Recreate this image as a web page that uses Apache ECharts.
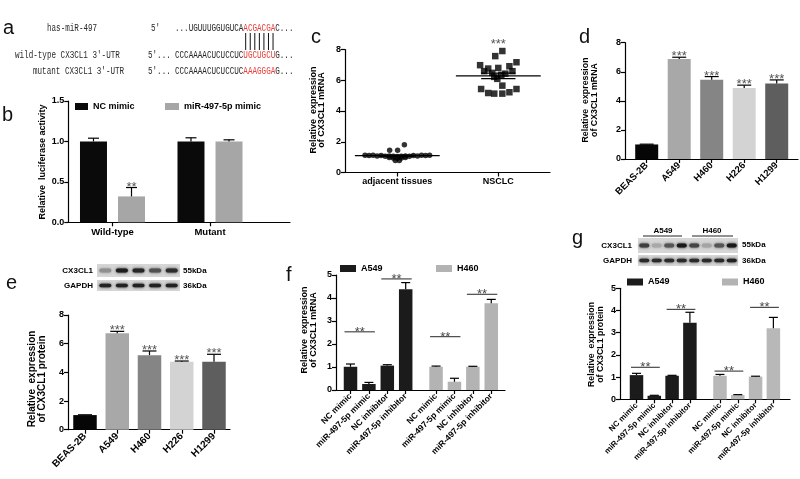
<!DOCTYPE html>
<html><head><meta charset="utf-8">
<script src="https://cdn.jsdelivr.net/npm/echarts@6.0.0/dist/echarts.min.js"></script>
<style>html,body{margin:0;padding:0;background:#fff}#chart{width:800px;height:479px}</style>
</head><body><div id="chart"></div>
<script>
// ================= DATA =================
// b: luciferase
const bCategories = ['Wild-type', 'Mutant'];
const bSeriesNames = ['NC mimic', 'miR-497-5p mimic'];
const bNC = [1.00, 1.00];
const bNCErr = [0.04, 0.045];
const bMiR = [0.32, 1.00];
const bMiRErr = [0.11, 0.02];
const bMiRSig = ['**', ''];

// c: tissues scatter (value, horizontal spread within column)
const cCategories = ['adjacent tissues', 'NSCLC'];
const cAdjacent = [1.13,1.10,1.12,1.08,1.10,1.06,1.08,1.05,1.04,1.05,1.08,1.06,1.10,1.08,1.12,1.10,1.13,
                   0.98,0.95,0.92,0.95,0.98,0.78,0.78,1.45,1.45,1.80];
const cAdjacentSpread = [-0.32,-0.28,-0.24,-0.20,-0.16,-0.12,-0.08,-0.04,0.00,0.04,0.08,0.12,0.16,0.20,0.24,0.28,0.32,
                   -0.08,-0.04,0.00,0.04,0.08,-0.02,0.02,-0.076,0.003,0.07];
const cNSCLC = [7.90,7.57,7.17,6.98,6.91,6.76,6.80,6.59,6.59,6.48,6.43,6.35,6.22,6.09,5.65,5.43,5.43,5.17,5.13,5.13,5.22];
const cNSCLCSpread = [0.04,-0.03,0.18,-0.18,0.11,-0.10,0.00,-0.14,0.14,-0.06,0.07,0.03,-0.04,-0.01,0.04,-0.17,0.18,-0.10,-0.04,0.04,0.11];
const cSig = ['', '***'];

// d: cell lines mRNA
const dCategories = ['BEAS-2B', 'A549', 'H460', 'H226', 'H1299'];
const dValues = [1.00, 6.88, 5.45, 4.88, 5.20];
const dErrors = [0.02, 0.12, 0.22, 0.20, 0.24];
const dSig = ['', '***', '***', '***', '***'];

// e: cell lines protein
const eCategories = ['BEAS-2B', 'A549', 'H460', 'H226', 'H1299'];
const eValues = [1.02, 6.72, 5.20, 4.74, 4.74];
const eErrors = [0.02, 0.14, 0.29, 0.05, 0.52];
const eSig = ['', '***', '***', '***', '***'];

// f / g: transfection groups
const fgCategories = ['NC mimic', 'miR-497-5p mimic', 'NC inhibitor', 'miR-497-5p inhibitor'];
const fgGroups = ['A549', 'H460'];
const fA549 = [1.01, 0.26, 1.06, 4.38];
const fA549Err = [0.12, 0.07, 0.04, 0.29];
const fH460 = [1.01, 0.36, 1.01, 3.77];
const fH460Err = [0.03, 0.15, 0.02, 0.17];
const fSigA549 = [[0, 1, 2.53], [2, 3, 4.83]];
const fSigH460 = [[0, 1, 2.32], [2, 3, 4.16]];

const gA549 = [1.09, 0.16, 1.06, 3.45];
const gA549Err = [0.08, 0.02, 0.02, 0.47];
const gH460 = [1.06, 0.19, 1.02, 3.20];
const gH460Err = [0.06, 0.02, 0.02, 0.49];
const gSigA549 = [[0, 1, 1.44], [2, 3, 4.05]];
const gSigH460 = [[0, 1, 1.27], [2, 3, 4.14]];

// ================= LAYOUT / STYLE =================
const FONT = '"Liberation Sans", Arial, sans-serif';
const AX = { color: '#000', width: 1.2 };
const cellColors = ['#060606', '#a8a8a8', '#858585', '#d3d3d3', '#5e5e5e'];
const bPairShift = 0.195;
const fShift = 4.65, gShift = 4.69;

const fPosA = fgCategories.map((c, i) => i);
const fPosH = fgCategories.map((c, i) => i + fShift);
const gPosA = fgCategories.map((c, i) => i);
const gPosH = fgCategories.map((c, i) => i + gShift);

function grid(left, top, width, height) {
  return { left, top, width, height, containLabel: false, outerBoundsMode: 'none' };
}
function xCat(gridIndex, min, max, pos, labels, fontSize, rotate) {
  return {
    type: 'value', gridIndex, min, max, splitLine: { show: false },
    axisLine: { show: true, onZero: false, lineStyle: AX },
    axisTick: { show: true, customValues: pos, length: 4, lineStyle: AX },
    axisLabel: {
      customValues: pos, rotate: rotate || 0, margin: 5, color: '#000', fontWeight: 'bold',
      fontSize, fontFamily: FONT,
      formatter: v => { const k = pos.findIndex(p => Math.abs(p - v) < 1e-6); return k < 0 ? '' : labels[k]; }
    }
  };
}
function yVal(gridIndex, max, interval, offset, fmt) {
  return {
    type: 'value', gridIndex, min: 0, max, interval, offset: offset || 0, splitLine: { show: false },
    axisLine: { show: true, onZero: false, lineStyle: AX },
    axisTick: { show: true, length: 4, lineStyle: AX },
    axisLabel: { color: '#000', fontWeight: 'bold', fontSize: 9, fontFamily: FONT, margin: 4, formatter: fmt }
  };
}
function errSeries(xi, yi, rows, cap, sigs) {
  return {
    type: 'custom', xAxisIndex: xi, yAxisIndex: yi, z: 5, silent: true, data: rows,
    encode: { x: 0, y: 1 },
    renderItem: (params, api) => {
      const x0 = api.value(0), v = api.value(1), e = api.value(2);
      const b = api.coord([x0, v]), t = api.coord([x0, v + e]);
      const kids = [
        { type: 'line', shape: { x1: b[0], y1: b[1], x2: b[0], y2: t[1] }, style: { stroke: '#000', lineWidth: 1.2 } },
        { type: 'line', shape: { x1: b[0] - cap, y1: t[1], x2: b[0] + cap, y2: t[1] }, style: { stroke: '#000', lineWidth: 1.2 } }
      ];
      const s = sigs ? sigs[params.dataIndex] : '';
      if (s) kids.push({ type: 'text', style: { text: s, x: b[0], y: t[1] + 6, align: 'center', verticalAlign: 'bottom',
        font: '13px ' + FONT, fill: '#555' } });
      return { type: 'group', children: kids };
    }
  };
}
function sigSeries(xi, yi, rows, half) {
  return {
    type: 'custom', xAxisIndex: xi, yAxisIndex: yi, z: 6, silent: true, data: rows,
    encode: { x: [0, 1], y: 2 },
    renderItem: (params, api) => {
      const a = api.coord([api.value(0), api.value(2)]), b = api.coord([api.value(1), api.value(2)]);
      const x1 = a[0] - half, x2 = b[0] + half, y = a[1];
      return { type: 'group', children: [
        { type: 'line', shape: { x1, y1: y, x2, y2: y }, style: { stroke: '#4a4a4a', lineWidth: 1.2 } },
        { type: 'text', style: { text: '**', x: (x1 + x2) / 2, y: y + 7, align: 'center', verticalAlign: 'bottom',
          font: '13px ' + FONT, fill: '#4a4a4a' } }
      ] };
    }
  };
}
const mean = a => a.reduce((s, v) => s + v, 0) / a.length;
const sem = a => { const m = mean(a); return Math.sqrt(a.reduce((s, v) => s + (v - m) * (v - m), 0) / (a.length - 1)) / Math.sqrt(a.length); };
const cGroups = [cAdjacent, cNSCLC];

// ================= GRAPHIC (labels, sequences, blots) =================
const graphic = [];
function T(x, y, text, font, extra) {
  const ex = extra || {};
  const el = { type: 'text', x, y, silent: true,
    style: Object.assign({ text, font, fill: '#000', align: 'left', verticalAlign: 'middle' }, ex.style || {}) };
  if (ex.scaleY) el.scaleY = ex.scaleY;
  graphic.push(el);
}
// panel letters
[['a', 3, 18], ['b', 2, 105], ['c', 311, 27], ['d', 579, 27], ['e', 6, 273], ['f', 286, 265], ['g', 572, 228]]
  .forEach(([t, x, y]) => T(x, y, t, '20px ' + FONT, { style: { verticalAlign: 'alphabetic', fill: '#111' } }));

// panel a : sequences
const SEQF = '7.6px "Liberation Mono", monospace';
const seqStyle = { fill: '#2a2a2a', rich: { r: { fill: '#e8413c', font: SEQF } } };
const seqLines = [
  { y: 28, name: 'has-miR-497', nx: 47, p: "5'", px: 151, seq: '...UGUUUGGUGUCA{r|ACGACGA}C...' },
  { y: 55, name: "wild-type CX3CL1 3'-UTR", nx: 15, p: "5'...", px: 148, seq: 'CCCAAAACUCUCCUC{r|UGCUGCU}G...' },
  { y: 71, name: "mutant CX3CL1 3'-UTR", nx: 33, p: "5'...", px: 148, seq: 'CCCAAAACUCUCCUC{r|AAAGGGA}G...' }
];
seqLines.forEach(L => {
  T(L.nx, L.y, L.name, SEQF, { scaleY: 1.35, style: { fill: '#2a2a2a' } });
  T(L.px, L.y, L.p, SEQF, { scaleY: 1.35, style: { fill: '#2a2a2a' } });
  T(175, L.y, L.seq, SEQF, { scaleY: 1.35, style: seqStyle });
});
for (let i = 0; i < 7; i++) {
  const x = 175 + 15 * 4.56 + 2.28 + i * 4.56;
  graphic.push({ type: 'line', silent: true, shape: { x1: x, y1: 33, x2: x, y2: 50 }, style: { stroke: '#111', lineWidth: 1 } });
}

// axis titles (rotated)
function vTitle(x, y, text, size, lh) {
  graphic.push({ type: 'text', x, y, rotation: Math.PI / 2, silent: true,
    style: { text, font: 'bold ' + size + 'px ' + FONT, fill: '#000', align: 'center', verticalAlign: 'middle', lineHeight: lh } });
}
vTitle(43, 162, 'Relative  luciferase activity', 9, 10);
vTitle(317.5, 110, 'Relative  expression\nof CX3CL1 mRNA', 9, 8.5);
vTitle(590, 100, 'Relative  expression\nof CX3CL1 mRNA', 8.8, 8.5);
vTitle(37, 379, 'Relative  expression\nof CX3CL1 protein', 10, 10);
vTitle(309, 330, 'Relative  expression\nof CX3CL1 mRNA', 9, 8.5);
vTitle(596, 344.5, 'Relative  expression\nof CX3CL1 protein', 8.8, 8.5);

// western blots
function blot(x0, w, yTop, h1, yBot, h2, tones1, tones2, bandW) {
  const n = tones1.length, step = w / n;
  graphic.push({ type: 'rect', silent: true, shape: { x: x0, y: yTop, width: w, height: h1 }, style: { fill: '#d6d6d6' } });
  graphic.push({ type: 'rect', silent: true, shape: { x: x0, y: yBot, width: w, height: h2 }, style: { fill: '#d6d6d6' } });
  tones1.forEach((c, i) => graphic.push({ type: 'rect', silent: true,
    shape: { x: x0 + step * (i + 0.5) - bandW / 2, y: yTop + h1 / 2 - 2, width: bandW, height: 4, r: 2 },
    style: { fill: c, shadowBlur: 3, shadowColor: c } }));
  tones2.forEach((c, i) => graphic.push({ type: 'rect', silent: true,
    shape: { x: x0 + step * (i + 0.5) - bandW / 2, y: yBot + h2 / 2 - 1.8, width: bandW, height: 3.6, r: 2 },
    style: { fill: c, shadowBlur: 3, shadowColor: c } }));
}
blot(97, 83, 264, 13, 280, 11, ['#8f8f8f', '#1c1c1c', '#262626', '#505050', '#2e2e2e'], ['#222', '#222', '#222', '#222', '#222'], 12);
T(93, 270.5, 'CX3CL1', 'bold 8px ' + FONT, { style: { align: 'right' } });
T(93, 285.5, 'GAPDH', 'bold 8px ' + FONT, { style: { align: 'right' } });
T(183, 270.5, '55kDa', 'bold 8px ' + FONT);
T(183, 285.5, '36kDa', 'bold 8px ' + FONT);

blot(638, 100, 238, 15, 255, 11,
  ['#3e3e3e', '#a8a8a8', '#555', '#1a1a1a', '#444', '#a4a4a4', '#555', '#1a1a1a'],
  ['#2a2a2a', '#2a2a2a', '#2a2a2a', '#2a2a2a', '#2a2a2a', '#2a2a2a', '#2a2a2a', '#222'], 10);
T(632, 246, 'CX3CL1', 'bold 8px ' + FONT, { style: { align: 'right' } });
T(632, 260.5, 'GAPDH', 'bold 8px ' + FONT, { style: { align: 'right' } });
T(742, 245, '55kDa', 'bold 8px ' + FONT);
T(742, 260.5, '36kDa', 'bold 8px ' + FONT);
T(663, 231, fgGroups[0], 'bold 8px ' + FONT, { style: { align: 'center' } });
T(712, 231, fgGroups[1], 'bold 8px ' + FONT, { style: { align: 'center' } });
graphic.push({ type: 'line', silent: true, shape: { x1: 643, y1: 236, x2: 682, y2: 236 }, style: { stroke: '#222', lineWidth: 1 } });
graphic.push({ type: 'line', silent: true, shape: { x1: 692, y1: 236, x2: 733, y2: 236 }, style: { stroke: '#222', lineWidth: 1 } });

// ================= LEGENDS =================
function leg(name, left, top, w) {
  return { data: [name], left, top, padding: 0, icon: 'rect', itemWidth: w, itemHeight: 7, selectedMode: false,
    textStyle: { color: '#000', fontWeight: 'bold', fontSize: 9, fontFamily: FONT } };
}

// ================= OPTION =================
const option = {
  animation: false,
  backgroundColor: '#fff',
  grid: [
    grid(68.25, 101, 221.75, 121.3),   // b
    grid(345, 49.5, 205, 123),         // c
    grid(625, 42.7, 173, 116.3),       // d
    grid(68, 315, 162, 114.7),         // e
    grid(336, 275, 169, 115),          // f
    grid(620, 288.3, 170, 111)         // g
  ],
  xAxis: [
    xCat(0, -0.4538, 1.8205, [0, 1], bCategories, 9.5, 0),
    xCat(1, -0.518, 1.512, [0, 1], cCategories, 9, 0),
    xCat(2, -0.668, 4.655, dCategories.map((c, i) => i), dCategories, 9.5, 45),
    xCat(3, -0.527, 4.496, eCategories.map((c, i) => i), eCategories, 10, 45),
    xCat(4, -0.788, 8.397, fPosA.concat(fPosH), fgCategories.concat(fgCategories), 8.5, 45),
    xCat(5, -0.927, 8.624, gPosA.concat(gPosH), fgCategories.concat(fgCategories), 8, 45)
  ],
  yAxis: [
    yVal(0, 1.5, 0.5, 0, v => v.toFixed(1)),
    yVal(1, 8, 2, 0),
    yVal(2, 8, 2, 0),
    yVal(3, 8, 2, 0),
    yVal(4, 5, 1, 0),
    yVal(5, 5, 1, 0)
  ],
  legend: [
    leg(bSeriesNames[0], 75, 102, 13),
    leg(bSeriesNames[1], 165, 102, 14),
    leg(fgGroups[0], 340, 264, 16),
    leg(fgGroups[1], 436, 264, 16),
    leg(fgGroups[0], 627, 277.5, 16),
    leg(fgGroups[1], 722, 277.5, 16)
  ],
  graphic: graphic,
  series: [
    // b
    { type: 'bar', name: bSeriesNames[0], xAxisIndex: 0, yAxisIndex: 0, barWidth: 27, barGap: '-100%',
      itemStyle: { color: '#0a0a0a' }, data: bNC.map((v, i) => [i - bPairShift, v]) },
    { type: 'bar', name: bSeriesNames[1], xAxisIndex: 0, yAxisIndex: 0, barWidth: 27, barGap: '-100%',
      itemStyle: { color: '#a6a6a6' }, data: bMiR.map((v, i) => [i + bPairShift, v]) },
    errSeries(0, 0, bNC.map((v, i) => [i - bPairShift, v, bNCErr[i]]), 5.5, null),
    errSeries(0, 0, bMiR.map((v, i) => [i + bPairShift, v, bMiRErr[i]]), 5.5, bMiRSig),
    // c
    { type: 'scatter', name: cCategories[0], xAxisIndex: 1, yAxisIndex: 1, symbol: 'circle', symbolSize: 5.5,
      itemStyle: { color: '#000' }, data: cAdjacent.map((v, i) => [0 + cAdjacentSpread[i], v]) },
    { type: 'scatter', name: cCategories[1], xAxisIndex: 1, yAxisIndex: 1, symbol: 'rect', symbolSize: 6.5,
      itemStyle: { color: '#000' }, data: cNSCLC.map((v, i) => [1 + cNSCLCSpread[i], v]) },
    { type: 'custom', xAxisIndex: 1, yAxisIndex: 1, z: 6, silent: true, encode: { x: 0, y: 1 },
      data: cGroups.map((g, i) => [i, mean(g), sem(g)]),
      renderItem: (params, api) => {
        const i = api.value(0), m = api.value(1), s = api.value(2);
        const L = api.coord([i - 0.42, m]), R = api.coord([i + 0.42, m]);
        const lo = api.coord([i, m - s]), hi = api.coord([i, m + s]);
        const cl = api.coord([i - 0.17, m])[0], cr = api.coord([i + 0.17, m])[0];
        const kids = [
          { type: 'line', shape: { x1: L[0], y1: L[1], x2: R[0], y2: R[1] }, style: { stroke: '#000', lineWidth: 1.3 } },
          { type: 'line', shape: { x1: lo[0], y1: lo[1], x2: hi[0], y2: hi[1] }, style: { stroke: '#000', lineWidth: 1.2 } },
          { type: 'line', shape: { x1: cl, y1: lo[1], x2: cr, y2: lo[1] }, style: { stroke: '#000', lineWidth: 1.2 } },
          { type: 'line', shape: { x1: cl, y1: hi[1], x2: cr, y2: hi[1] }, style: { stroke: '#000', lineWidth: 1.2 } }
        ];
        const sig = cSig[params.dataIndex];
        if (sig) {
          const top = api.coord([i, Math.max.apply(null, cGroups[params.dataIndex])]);
          kids.push({ type: 'text', style: { text: sig, x: top[0], y: top[1], align: 'center', verticalAlign: 'bottom',
            font: '13px ' + FONT, fill: '#555' } });
        }
        return { type: 'group', children: kids };
      } },
    // d
    { type: 'bar', name: 'd', xAxisIndex: 2, yAxisIndex: 2, barWidth: 23,
      itemStyle: { color: p => cellColors[p.dataIndex] }, data: dValues.map((v, i) => [i, v]) },
    errSeries(2, 2, dValues.map((v, i) => [i, v, dErrors[i]]), 7, dSig),
    // e
    { type: 'bar', name: 'e', xAxisIndex: 3, yAxisIndex: 3, barWidth: 23.5,
      itemStyle: { color: p => cellColors[p.dataIndex] }, data: eValues.map((v, i) => [i, v]) },
    errSeries(3, 3, eValues.map((v, i) => [i, v, eErrors[i]]), 7, eSig),
    // f
    { type: 'bar', name: fgGroups[0], xAxisIndex: 4, yAxisIndex: 4, barWidth: 13.5, barGap: '-100%',
      itemStyle: { color: '#1b1b1b' }, data: fA549.map((v, i) => [fPosA[i], v]) },
    { type: 'bar', name: fgGroups[1], xAxisIndex: 4, yAxisIndex: 4, barWidth: 13.5, barGap: '-100%',
      itemStyle: { color: '#b3b3b3' }, data: fH460.map((v, i) => [fPosH[i], v]) },
    errSeries(4, 4, fA549.map((v, i) => [fPosA[i], v, fA549Err[i]]).concat(fH460.map((v, i) => [fPosH[i], v, fH460Err[i]])), 4.5, null),
    sigSeries(4, 4, fSigA549.map(r => [fPosA[r[0]], fPosA[r[1]], r[2]]).concat(fSigH460.map(r => [fPosH[r[0]], fPosH[r[1]], r[2]])), 6),
    // g
    { type: 'bar', name: fgGroups[0], xAxisIndex: 5, yAxisIndex: 5, barWidth: 13.5, barGap: '-100%',
      itemStyle: { color: '#1b1b1b' }, data: gA549.map((v, i) => [gPosA[i], v]) },
    { type: 'bar', name: fgGroups[1], xAxisIndex: 5, yAxisIndex: 5, barWidth: 13.5, barGap: '-100%',
      itemStyle: { color: '#b8b8b8' }, data: gH460.map((v, i) => [gPosH[i], v]) },
    errSeries(5, 5, gA549.map((v, i) => [gPosA[i], v, gA549Err[i]]).concat(gH460.map((v, i) => [gPosH[i], v, gH460Err[i]])), 4.5, null),
    sigSeries(5, 5, gSigA549.map(r => [gPosA[r[0]], gPosA[r[1]], r[2]]).concat(gSigH460.map(r => [gPosH[r[0]], gPosH[r[1]], r[2]])), 5.5)
  ]
};
const chart = echarts.init(document.getElementById('chart'), null, { renderer: 'canvas' });
chart.setOption(option);
</script>
</body></html>
